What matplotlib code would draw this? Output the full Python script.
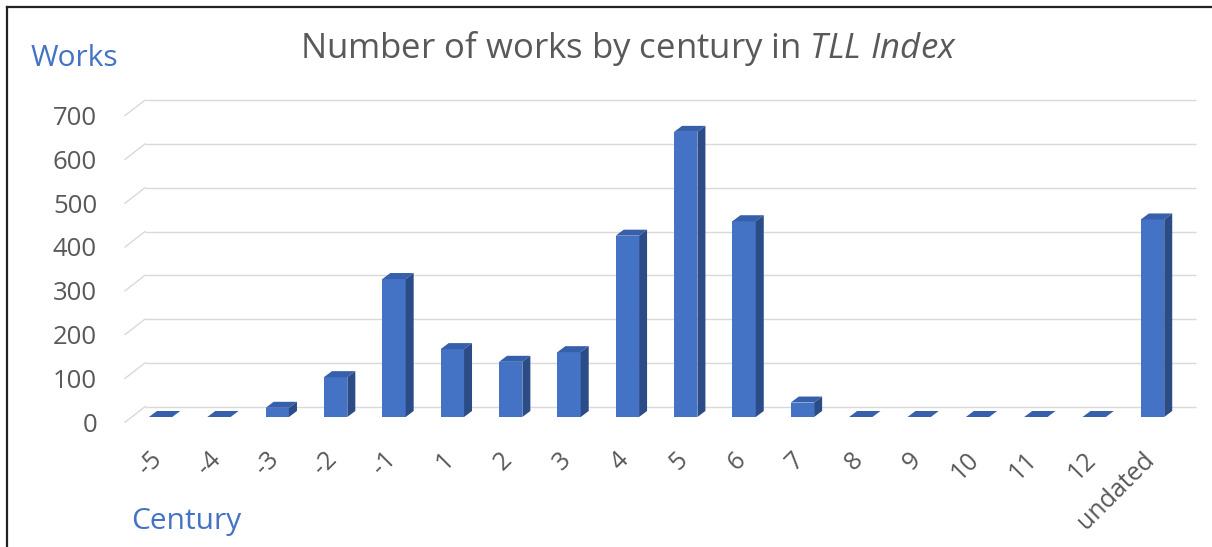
import numpy as np
import matplotlib
matplotlib.use("Agg")
import matplotlib.pyplot as plt
import matplotlib.transforms as mtransforms
from matplotlib.patches import Polygon
from matplotlib.lines import Line2D

# data
centuries = ['-5', '-4', '-3', '-2', '-1', '1', '2', '3', '4', '5', '6', '7',
             '8', '9', '10', '11', '12', 'undated']
works = [0, 0, 21, 91, 315, 155, 126, 148, 414, 651, 447, 33,
         0, 0, 0, 0, 0, 451]
y_ticks = [0, 100, 200, 300, 400, 500, 600, 700]

plt.rcParams['font.family'] = ['Open Sans', 'DejaVu Sans']
plt.rcParams['mathtext.fontset'] = 'custom'
plt.rcParams['mathtext.rm'] = 'Open Sans'
plt.rcParams['mathtext.it'] = 'Open Sans:italic'

W, H = 1212, 547
fig = plt.figure(figsize=(W / 100, H / 100), dpi=100)

# layout in pixels (front plane of the bars)
AX_L, AX_R, AX_T, AX_B = 120, 1200, 100, 417
X0, DX = 160.6, 58.35          # centre of first bar, spacing
YMAX = (AX_B - AX_T) / 0.438   # 43.8 px per 100 works
ax = fig.add_axes([AX_L / W, 1 - AX_B / H, (AX_R - AX_L) / W, (AX_B - AX_T) / H])
ax.set_xlim((AX_L - X0) / DX, (AX_R - X0) / DX)
ax.set_ylim(0, YMAX)
for s in ax.spines.values():
    s.set_visible(False)


def px_x(n):
    return n / DX


def px_y(n):
    return n * YMAX / (AX_B - AX_T)


grid_col = '#D9D9D9'
xb_left = (145 - X0) / DX
xf_left = (125 - X0) / DX
x_right = (1196 - X0) / DX
for v in y_ticks:
    yb = v + px_y(10.3)
    yf = v - px_y(5.2)
    ax.plot([xb_left, x_right], [yb, yb], color=grid_col, lw=1.0, zorder=1,
            clip_on=False, solid_capstyle='butt')
    ax.plot([xf_left, xb_left], [yf, yb], color=grid_col, lw=1.0, zorder=1,
            clip_on=False)

# 3D-looking bars
front_col = '#4472C4'
top_col = '#3660AB'
side_col = '#2B4C87'
idx = np.arange(len(centuries))
bw = 0.4
ddx, ddy = px_x(8), px_y(6)
ax.bar(idx, works, width=bw, color=front_col, zorder=3)
for i, h in zip(idx, works):
    x0, x1 = i - bw / 2, i + bw / 2
    ax.add_patch(Polygon([(x0, h), (x1, h), (x1 + ddx, h + ddy), (x0 + ddx, h + ddy)],
                         closed=True, facecolor=top_col, edgecolor='none', zorder=3,
                         clip_on=False))
    ax.add_patch(Polygon([(x1, 0), (x1 + ddx, ddy), (x1 + ddx, h + ddy), (x1, h)],
                         closed=True, facecolor=side_col, edgecolor='none', zorder=3,
                         clip_on=False))

txt_col = '#595959'
ax.set_yticks(y_ticks)
ax.set_yticklabels([str(v) for v in y_ticks], fontsize=18.5, color=txt_col)
ax.tick_params(axis='y', length=0, pad=16.5)
off_y = mtransforms.ScaledTranslation(0, -5.2 / 100, fig.dpi_scale_trans)
for lab in ax.get_yticklabels():
    lab.set_transform(lab.get_transform() + off_y)

ax.set_xticks(idx)
ax.set_xticklabels(centuries, rotation=45, ha='right', va='center',
                   rotation_mode='anchor', fontsize=18, color=txt_col)
ax.tick_params(axis='x', length=0, pad=0)
off_x = mtransforms.ScaledTranslation(-2 / 100, -39 / 100, fig.dpi_scale_trans)
for lab in ax.get_xticklabels():
    lab.set_transform(lab.get_transform() + off_x)

fig.text(628 / W, 1 - 49 / H, r'Number of works by century in $\mathit{TLL\ Index}$',
         ha='center', va='center', fontsize=25, color=txt_col)
fig.text(31 / W, 1 - 59 / H, 'Works', ha='left', va='center', fontsize=21.5,
         color=front_col)
fig.text(131 / W, 1 - 521 / H, 'Century', ha='left', va='center', fontsize=21.5,
         color=front_col)

# frame edges visible in the crop
fig.add_artist(Line2D([7 / W, 1], [1 - 7 / H, 1 - 7 / H], color='#222222', lw=1.6))
fig.add_artist(Line2D([7 / W, 7 / W], [0, 1 - 7 / H], color='#222222', lw=1.6))

fig.savefig('out.png', dpi=100)
